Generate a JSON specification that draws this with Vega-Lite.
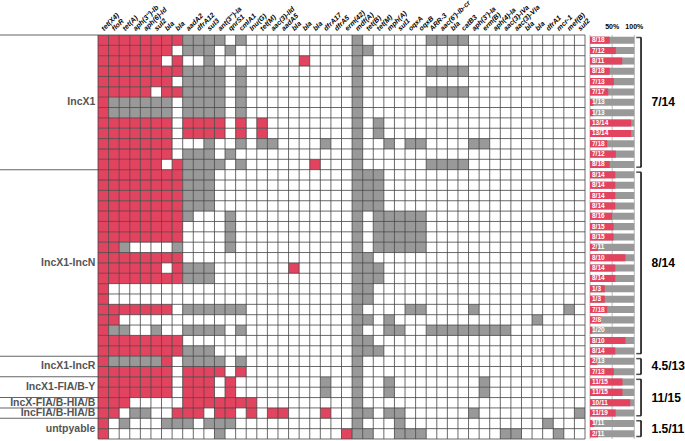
{
  "$schema": "https://vega.github.io/schema/vega-lite/v6.json",
  "width": 487,
  "height": 404,
  "autosize": "none",
  "padding": {"left": 98, "top": 35, "right": 100, "bottom": 2},
  "background": "white",
  "config": {"view": {"stroke": null}, "font": "Liberation Sans", "aria": false},
  "datasets": {
    "iso": [
      {"r":0,"g":"IncX1","b":"7/14","t":"8/18","p":0.444,"R":[0,1,2,3,4,5,6,7],"G":[8,9,10,11,13,24,31,32,33,34]},
      {"r":1,"g":"IncX1","b":"7/14","t":"7/12","p":0.583,"R":[0,1,2,3,4,5,6],"G":[8,9,10,12,24,25]},
      {"r":2,"g":"IncX1","b":"7/14","t":"8/11","p":0.727,"R":[0,1,2,3,4,5,7,19],"G":[10,24]},
      {"r":3,"g":"IncX1","b":"7/14","t":"8/18","p":0.444,"R":[0,1,2,3,4,5,6,7],"G":[8,9,10,11,13,24,31,32,33,34]},
      {"r":4,"g":"IncX1","b":"7/14","t":"7/13","p":0.538,"R":[0,1,2,3,4,5,6],"G":[8,9,10,11,13,24]},
      {"r":5,"g":"IncX1","b":"7/14","t":"7/17","p":0.412,"R":[0,1,2,3,4,6,7],"G":[8,9,10,11,13,24,31,32,33,34]},
      {"r":6,"g":"IncX1","b":"7/14","t":"1/13","p":0.077,"R":[0],"G":[1,2,3,4,5,6,8,9,10,11,13,24]},
      {"r":7,"g":"IncX1","b":"7/14","t":"1/13","p":0.077,"R":[0],"G":[1,2,3,4,5,6,8,9,10,11,13,24]},
      {"r":8,"g":"IncX1","b":"7/14","t":"13/14","p":0.929,"R":[0,1,2,3,4,5,6,8,9,10,11,13,15],"G":[24,26]},
      {"r":9,"g":"IncX1","b":"7/14","t":"13/14","p":0.929,"R":[0,1,2,3,4,5,6,8,9,10,11,13,15],"G":[24,26]},
      {"r":10,"g":"IncX1","b":"7/14","t":"7/18","p":0.389,"R":[0,1,2,3,4,5,6],"G":[10,13,15,16,21,24,27,29,30,35,36]},
      {"r":11,"g":"IncX1","b":"7/14","t":"7/12","p":0.583,"R":[0,1,2,3,4,5,6],"G":[8,9,10,12,24]},
      {"r":12,"g":"IncX1","b":"7/14","t":"8/18","p":0.444,"R":[0,1,2,3,4,5,7,20],"G":[8,9,10,11,13,24,31,32,33,34]},
      {"r":13,"g":"IncX1-IncN","b":"8/14","t":"8/14","p":0.571,"R":[0,1,2,3,4,5,6,7],"G":[8,9,10,24,25,26]},
      {"r":14,"g":"IncX1-IncN","b":"8/14","t":"8/14","p":0.571,"R":[0,1,2,3,4,5,6,7],"G":[8,9,10,24,25,26]},
      {"r":15,"g":"IncX1-IncN","b":"8/14","t":"8/14","p":0.571,"R":[0,1,2,3,4,5,6,7],"G":[8,9,10,24,25,26]},
      {"r":16,"g":"IncX1-IncN","b":"8/14","t":"8/14","p":0.571,"R":[0,1,2,3,4,5,6,7],"G":[8,9,10,24,25,26]},
      {"r":17,"g":"IncX1-IncN","b":"8/14","t":"8/16","p":0.5,"R":[0,1,2,3,4,5,6,7],"G":[8,12,24,26,27,28,29,30]},
      {"r":18,"g":"IncX1-IncN","b":"8/14","t":"8/15","p":0.533,"R":[0,1,2,3,4,5,6,7],"G":[12,24,26,27,28,29,30]},
      {"r":19,"g":"IncX1-IncN","b":"8/14","t":"8/15","p":0.533,"R":[0,1,2,3,4,5,6,7],"G":[12,24,26,27,28,29,30]},
      {"r":20,"g":"IncX1-IncN","b":"8/14","t":"2/11","p":0.182,"R":[0,1],"G":[2,7,12,24,26,27,28,29,30]},
      {"r":21,"g":"IncX1-IncN","b":"8/14","t":"8/10","p":0.8,"R":[0,1,2,3,4,5,6,7],"G":[24,25]},
      {"r":22,"g":"IncX1-IncN","b":"8/14","t":"8/14","p":0.571,"R":[0,1,2,3,4,5,7,18],"G":[8,9,10,24,25,26]},
      {"r":23,"g":"IncX1-IncN","b":"8/14","t":"8/14","p":0.571,"R":[0,1,2,3,4,5,6,7],"G":[8,9,10,24,25,26]},
      {"r":24,"g":"IncX1-IncN","b":"8/14","t":"1/3","p":0.333,"R":[0],"G":[24,25]},
      {"r":25,"g":"IncX1-IncN","b":"8/14","t":"1/3","p":0.333,"R":[0],"G":[24,25]},
      {"r":26,"g":"IncX1-IncN","b":"8/14","t":"7/18","p":0.389,"R":[0,1,2,3,4,5,6],"G":[8,9,10,11,12,13,24,29,30,35,44]},
      {"r":27,"g":"IncX1-IncN","b":"8/14","t":"2/8","p":0.25,"R":[0,1],"G":[24,25,27,41]},
      {"r":28,"g":"IncX1-IncN","b":"8/14","t":"1/20","p":0.05,"R":[0],"G":[1,2,5,8,9,10,11,13,24,27,28,31,32,33,34,35,36,37,38]},
      {"r":29,"g":"IncX1-IncN","b":"8/14","t":"8/10","p":0.8,"R":[0,1,2,3,4,5,6,7],"G":[24,25]},
      {"r":30,"g":"IncX1-IncN","b":"8/14","t":"8/14","p":0.571,"R":[0,1,2,3,4,5,6,7],"G":[8,9,10,24,25,26]},
      {"r":31,"g":"IncX1-IncR","b":"4.5/13","t":"2/13","p":0.154,"R":[0,6],"G":[1,2,3,4,5,8,9,10,11,13,24]},
      {"r":32,"g":"IncX1-IncR","b":"4.5/13","t":"7/13","p":0.538,"R":[0,1,2,3,4,5,6,8,9,10,11,13],"G":[24]},
      {"r":33,"g":"IncX1-FIA/B-Y","b":"11/15","t":"11/15","p":0.733,"R":[0,1,2,3,4,5,6,8,9,10,12],"G":[21,24,27,36]},
      {"r":34,"g":"IncX1-FIA/B-Y","b":"11/15","t":"11/15","p":0.733,"R":[0,1,2,3,4,5,6,8,9,10,12],"G":[21,24,27,36]},
      {"r":35,"g":"IncX-FIA/B-HIA/B","b":"11/15","t":"10/11","p":0.909,"R":[0,1,2,8,9,10,11,12,13,14],"G":[24]},
      {"r":36,"g":"IncFIA/B-HIA/B","b":"11/15","t":"11/19","p":0.579,"R":[0,1,7,8,9,11,12,14,16,17,21],"G":[3,4,24,25,27,28,35,45]},
      {"r":37,"g":"untpyable","b":"1.5/11","t":"1/11","p":0.091,"R":[0],"G":[2,6,7,8,10,11,12,24,28,42]},
      {"r":38,"g":"untpyable","b":"1.5/11","t":"2/11","p":0.182,"R":[0,23],"G":[11,24,25,28,29,30,38,39,43]}
    ],
    "groups": [
      {"g":"IncX1","a":0,"z":13},
      {"g":"IncX1-IncN","a":13,"z":31},
      {"g":"IncX1-IncR","a":31,"z":33},
      {"g":"IncX1-FIA/B-Y","a":33,"z":35},
      {"g":"IncX-FIA/B-HIA/B","a":35,"z":36},
      {"g":"IncFIA/B-HIA/B","a":36,"z":37},
      {"g":"untpyable","a":37,"z":39}
    ],
    "brackets": [
      {"b":"7/14","a":0,"z":13},
      {"b":"8/14","a":13,"z":31},
      {"b":"4.5/13","a":31,"z":33},
      {"b":"11/15","a":33,"z":37},
      {"b":"1.5/11","a":37,"z":39}
    ],
    "genes": [
      {"c":0,"n":"tet(X4)"},{"c":1,"n":"floR"},{"c":2,"n":"tet(A)"},{"c":3,"n":"aph(3'')-Ib"},
      {"c":4,"n":"aph(6)-Id"},{"c":5,"n":"sul2"},{"c":6,"n":"bla","s":"TEM-1B"},{"c":7,"n":"bla","s":"CTX-M-55"},
      {"c":8,"n":"aadA2"},{"c":9,"n":"dfrA12"},{"c":10,"n":"sul3"},{"c":11,"n":"ant(3'')-Ia"},
      {"c":12,"n":"qnrS1"},{"c":13,"n":"cmlA1"},{"c":14,"n":"lnu(G)"},{"c":15,"n":"tet(M)"},
      {"c":16,"n":"aac(3)-IId"},{"c":17,"n":"aadA5"},{"c":18,"n":"bla","s":"CTX-M-14"},{"c":19,"n":"bla","s":"CTX-M-65"},
      {"c":20,"n":"bla","s":"CTX-M-15"},{"c":21,"n":"dfrA17"},{"c":22,"n":"dfrA5"},{"c":23,"n":"erm(42)"},
      {"c":24,"n":"mdf(A)"},{"c":25,"n":"tet(B)"},{"c":26,"n":"tet(M)"},{"c":27,"n":"mph(A)"},
      {"c":28,"n":"sul1"},{"c":29,"n":"oqxA"},{"c":30,"n":"oqxB"},{"c":31,"n":"ARR-3"},
      {"c":32,"n":"aac(6')-Ib-cr"},{"c":33,"n":"bla","s":"OXA-1"},{"c":34,"n":"catB3"},{"c":35,"n":"aph(3')-Ia"},
      {"c":36,"n":"erm(B)"},{"c":37,"n":"aph(4)-Ia"},{"c":38,"n":"aac(3)-IVa"},{"c":39,"n":"aac(3)-VIa"},
      {"c":40,"n":"bla","s":"CMY-2"},{"c":41,"n":"bla","s":"TEM-1A"},{"c":42,"n":"dfrA1"},{"c":43,"n":"mcr-1"},
      {"c":44,"n":"mef(B)"},{"c":45,"n":"sul2"}
    ],
    "vb": [{"v":0},{"v":1},{"v":2},{"v":3},{"v":4},{"v":5},{"v":6},{"v":7},{"v":8},{"v":9},{"v":10},{"v":11},{"v":12},{"v":13},{"v":14},{"v":15},{"v":16},{"v":17},{"v":18},{"v":19},{"v":20},{"v":21},{"v":22},{"v":23},{"v":24},{"v":25},{"v":26},{"v":27},{"v":28},{"v":29},{"v":30},{"v":31},{"v":32},{"v":33},{"v":34},{"v":35},{"v":36},{"v":37},{"v":38},{"v":39},{"v":40},{"v":41},{"v":42},{"v":43},{"v":44},{"v":45},{"v":46}],
    "hb": [{"h":0},{"h":1},{"h":2},{"h":3},{"h":4},{"h":5},{"h":6},{"h":7},{"h":8},{"h":9},{"h":10},{"h":11},{"h":12},{"h":13},{"h":14},{"h":15},{"h":16},{"h":17},{"h":18},{"h":19},{"h":20},{"h":21},{"h":22},{"h":23},{"h":24},{"h":25},{"h":26},{"h":27},{"h":28},{"h":29},{"h":30},{"h":31},{"h":32},{"h":33},{"h":34},{"h":35},{"h":36},{"h":37},{"h":38},{"h":39}],
    "pct": [{"q":0,"l":""},{"q":0.5,"l":"50%"},{"q":1,"l":"100%"}]
  },
  "resolve": {"scale": {"x": "independent", "y": "independent"}},
  "layer": [
    {
      "data": {"name": "iso"},
      "transform": [{"flatten": ["R"], "as": ["c"]}],
      "mark": {"type": "rect", "fill": "#e2435f"},
      "encoding": {
        "x": {"field": "c", "type": "ordinal", "axis": null, "scale": {"domain": [0,1,2,3,4,5,6,7,8,9,10,11,12,13,14,15,16,17,18,19,20,21,22,23,24,25,26,27,28,29,30,31,32,33,34,35,36,37,38,39,40,41,42,43,44,45], "range": [0, 487], "paddingInner": 0, "paddingOuter": 0}},
        "y": {"field": "r", "type": "ordinal", "axis": null, "scale": {"domain": [0,1,2,3,4,5,6,7,8,9,10,11,12,13,14,15,16,17,18,19,20,21,22,23,24,25,26,27,28,29,30,31,32,33,34,35,36,37,38], "range": [0, 404], "paddingInner": 0, "paddingOuter": 0}}
      }
    },
    {
      "data": {"name": "iso"},
      "transform": [{"flatten": ["G"], "as": ["c"]}],
      "mark": {"type": "rect", "fill": "#999999"},
      "encoding": {
        "x": {"field": "c", "type": "ordinal", "axis": null, "scale": {"domain": [0,1,2,3,4,5,6,7,8,9,10,11,12,13,14,15,16,17,18,19,20,21,22,23,24,25,26,27,28,29,30,31,32,33,34,35,36,37,38,39,40,41,42,43,44,45], "range": [0, 487], "paddingInner": 0, "paddingOuter": 0}},
        "y": {"field": "r", "type": "ordinal", "axis": null, "scale": {"domain": [0,1,2,3,4,5,6,7,8,9,10,11,12,13,14,15,16,17,18,19,20,21,22,23,24,25,26,27,28,29,30,31,32,33,34,35,36,37,38], "range": [0, 404], "paddingInner": 0, "paddingOuter": 0}}
      }
    },
    {
      "data": {"name": "vb"},
      "mark": {"type": "rule", "stroke": "#444444", "strokeWidth": 0.8},
      "encoding": {
        "x": {"field": "v", "type": "quantitative", "axis": null, "scale": {"domain": [0, 46], "range": [0, 487]}}
      }
    },
    {
      "data": {"name": "hb"},
      "mark": {"type": "rule", "stroke": "#444444", "strokeWidth": 0.8},
      "encoding": {
        "y": {"field": "h", "type": "quantitative", "axis": null, "scale": {"domain": [0, 39], "range": [0, 404]}}
      }
    },
    {
      "data": {"name": "groups"},
      "mark": {"type": "tick", "orient": "horizontal", "color": "#222222", "thickness": 1, "size": 98},
      "encoding": {
        "y": {"field": "a", "type": "quantitative", "axis": null, "scale": {"domain": [0, 39], "range": [0, 404]}},
        "x": {"datum": -4.63, "type": "quantitative", "axis": null, "scale": {"domain": [0, 46], "range": [0, 487]}}
      }
    },
    {
      "data": {"name": "iso"},
      "mark": {"type": "text", "align": "right", "baseline": "middle", "fontSize": 10.5, "fontWeight": "bold", "fill": "#555555", "font": "Liberation Sans"},
      "encoding": {
        "text": {"field": "g", "type": "nominal"},
        "y": {"aggregate": "mean", "field": "r", "type": "quantitative", "axis": null, "scale": {"domain": [-0.5, 38.5], "range": [0, 404]}},
        "x": {"datum": -0.25, "type": "quantitative", "axis": null, "scale": {"domain": [0, 46], "range": [0, 487]}}
      }
    },
    {
      "data": {"name": "genes"},
      "mark": {"type": "text", "align": "left", "baseline": "alphabetic", "angle": 315, "fontSize": 7, "fontWeight": "bold", "fontStyle": "italic", "fill": "black", "font": "Liberation Sans", "dx": 1},
      "encoding": {
        "text": {"field": "n", "type": "nominal"},
        "x": {"field": "c", "type": "ordinal", "axis": null, "scale": {"domain": [0,1,2,3,4,5,6,7,8,9,10,11,12,13,14,15,16,17,18,19,20,21,22,23,24,25,26,27,28,29,30,31,32,33,34,35,36,37,38,39,40,41,42,43,44,45], "range": [0, 487], "paddingInner": 0, "paddingOuter": 0}},
        "y": {"datum": -0.8, "type": "quantitative", "axis": null, "scale": {"domain": [-0.5, 38.5], "range": [0, 404]}}
      }
    },
    {
      "data": {"name": "genes"},
      "transform": [{"filter": {"field": "s", "valid": true}}],
      "mark": {"type": "text", "align": "left", "baseline": "alphabetic", "angle": 315, "fontSize": 4.5, "fontWeight": "bold", "fontStyle": "italic", "fill": "black", "font": "Liberation Sans", "dx": 11.5, "dy": 1.5},
      "encoding": {
        "text": {"field": "s", "type": "nominal"},
        "x": {"field": "c", "type": "ordinal", "axis": null, "scale": {"domain": [0,1,2,3,4,5,6,7,8,9,10,11,12,13,14,15,16,17,18,19,20,21,22,23,24,25,26,27,28,29,30,31,32,33,34,35,36,37,38,39,40,41,42,43,44,45], "range": [0, 487], "paddingInner": 0, "paddingOuter": 0}},
        "y": {"datum": -0.8, "type": "quantitative", "axis": null, "scale": {"domain": [-0.5, 38.5], "range": [0, 404]}}
      }
    },
    {
      "data": {"name": "pct"},
      "mark": {"type": "rule", "stroke": "#bbbbbb", "strokeWidth": 1},
      "encoding": {
        "x": {"field": "q", "type": "quantitative", "axis": null, "scale": {"domain": [0, 1], "range": [492, 536.3]}}
      }
    },
    {
      "data": {"name": "pct"},
      "mark": {"type": "text", "align": "center", "baseline": "alphabetic", "fontSize": 7, "fontWeight": "bold", "fill": "black", "font": "Liberation Sans"},
      "encoding": {
        "text": {"field": "l", "type": "nominal"},
        "x": {"field": "q", "type": "quantitative", "axis": null, "scale": {"domain": [0, 1], "range": [492, 536.3]}},
        "y": {"datum": -1.1, "type": "quantitative", "axis": null, "scale": {"domain": [-0.5, 38.5], "range": [0, 404]}}
      }
    },
    {
      "data": {"name": "iso"},
      "mark": {"type": "bar", "fill": "#999999", "orient": "horizontal"},
      "encoding": {
        "x": {"datum": 1, "type": "quantitative", "stack": null, "axis": null, "scale": {"domain": [0, 1], "range": [492, 536.3]}},
        "y": {"field": "r", "type": "ordinal", "axis": null, "scale": {"domain": [0,1,2,3,4,5,6,7,8,9,10,11,12,13,14,15,16,17,18,19,20,21,22,23,24,25,26,27,28,29,30,31,32,33,34,35,36,37,38], "range": [0, 404], "paddingInner": 0.32, "paddingOuter": 0.16}}
      }
    },
    {
      "data": {"name": "iso"},
      "mark": {"type": "bar", "fill": "#e2435f", "orient": "horizontal"},
      "encoding": {
        "x": {"field": "p", "type": "quantitative", "stack": null, "axis": null, "scale": {"domain": [0, 1], "range": [492, 536.3]}},
        "y": {"field": "r", "type": "ordinal", "axis": null, "scale": {"domain": [0,1,2,3,4,5,6,7,8,9,10,11,12,13,14,15,16,17,18,19,20,21,22,23,24,25,26,27,28,29,30,31,32,33,34,35,36,37,38], "range": [0, 404], "paddingInner": 0.32, "paddingOuter": 0.16}}
      }
    },
    {
      "data": {"name": "iso"},
      "mark": {"type": "text", "align": "left", "baseline": "middle", "fontSize": 6.5, "fontWeight": "bold", "fill": "white", "font": "Liberation Sans", "dx": 2},
      "encoding": {
        "text": {"field": "t", "type": "nominal"},
        "x": {"datum": 0, "type": "quantitative", "axis": null, "scale": {"domain": [0, 1], "range": [492, 536.3]}},
        "y": {"field": "r", "type": "quantitative", "axis": null, "scale": {"domain": [-0.5, 38.5], "range": [0, 404]}}
      }
    },
    {
      "data": {"name": "brackets"},
      "mark": {"type": "rule", "stroke": "black", "strokeWidth": 1.5, "yOffset": 2.5, "y2Offset": -2.5},
      "encoding": {
        "x": {"datum": 1.152, "type": "quantitative", "axis": null, "scale": {"domain": [0, 1], "range": [492, 536.3]}},
        "y": {"field": "a", "type": "quantitative", "axis": null, "scale": {"domain": [0, 39], "range": [0, 404]}},
        "y2": {"field": "z"}
      }
    },
    {
      "data": {"name": "brackets"},
      "mark": {"type": "tick", "orient": "horizontal", "color": "black", "thickness": 1.5, "size": 5, "yOffset": 2.5},
      "encoding": {
        "x": {"datum": 1.1, "type": "quantitative", "axis": null, "scale": {"domain": [0, 1], "range": [492, 536.3]}},
        "y": {"field": "a", "type": "quantitative", "axis": null, "scale": {"domain": [0, 39], "range": [0, 404]}}
      }
    },
    {
      "data": {"name": "brackets"},
      "mark": {"type": "tick", "orient": "horizontal", "color": "black", "thickness": 1.5, "size": 5, "yOffset": -2.5},
      "encoding": {
        "x": {"datum": 1.1, "type": "quantitative", "axis": null, "scale": {"domain": [0, 1], "range": [492, 536.3]}},
        "y": {"field": "z", "type": "quantitative", "axis": null, "scale": {"domain": [0, 39], "range": [0, 404]}}
      }
    },
    {
      "data": {"name": "iso"},
      "mark": {"type": "text", "align": "left", "baseline": "middle", "fontSize": 12, "fontWeight": "bold", "fill": "black", "font": "Liberation Sans"},
      "encoding": {
        "text": {"field": "b", "type": "nominal"},
        "x": {"datum": 1.39, "type": "quantitative", "axis": null, "scale": {"domain": [0, 1], "range": [492, 536.3]}},
        "y": {"aggregate": "mean", "field": "r", "type": "quantitative", "axis": null, "scale": {"domain": [-0.5, 38.5], "range": [0, 404]}}
      }
    }
  ]
}
